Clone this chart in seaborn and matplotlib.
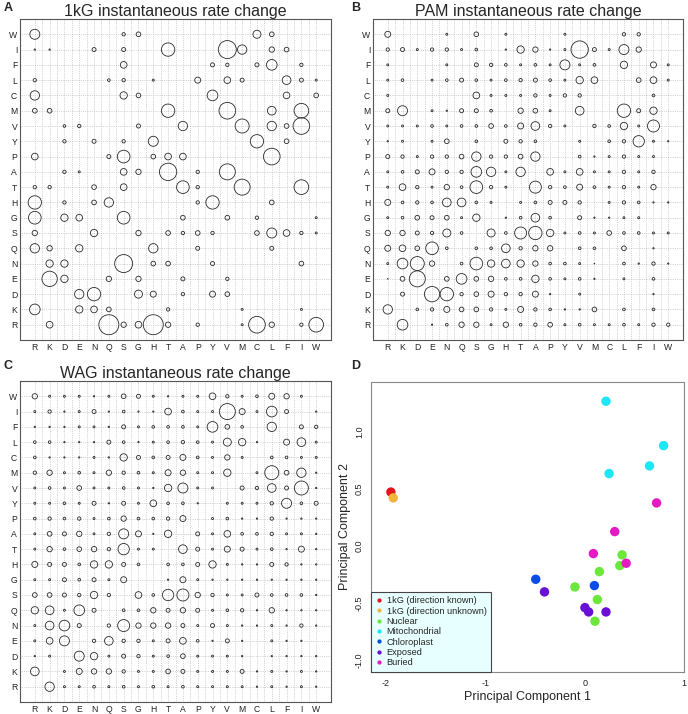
import numpy as np
import pandas as pd
import matplotlib
matplotlib.use('Agg')
import matplotlib.pyplot as plt
import seaborn as sns

AA_COLS = ['R', 'K', 'D', 'E', 'N', 'Q', 'S', 'G', 'H', 'T', 'A', 'P', 'Y', 'V', 'M', 'C', 'L', 'F', 'I', 'W']
AA_ROWS = ['W', 'I', 'F', 'L', 'C', 'M', 'V', 'Y', 'P', 'A', 'T', 'H', 'G', 'S', 'Q', 'N', 'E', 'D', 'K', 'R']

# magnitude of the rate change per cell (rows = AA_ROWS, columns = AA_COLS), 0 = no circle
KG_RATE = [
    [15, 0, 0, 0, 0, 0, 5, 7, 0, 0, 0, 0, 0, 0, 0, 12, 7, 0, 0, 0],
    [2, 2, 0, 0, 6, 0, 6, 0, 0, 20, 0, 0, 0, 27, 14, 0, 8, 7, 0, 0],
    [0, 0, 0, 0, 0, 0, 10, 0, 0, 0, 0, 0, 6, 5, 0, 6, 16, 0, 5, 0],
    [5, 0, 0, 0, 0, 4, 5, 0, 3, 0, 0, 9, 0, 10, 6, 0, 0, 13, 6, 3],
    [14, 0, 0, 0, 0, 0, 11, 7, 0, 0, 0, 0, 16, 0, 0, 0, 0, 10, 0, 7],
    [7, 7, 0, 0, 0, 0, 0, 0, 0, 20, 0, 0, 0, 25, 0, 0, 13, 0, 22, 0],
    [0, 0, 4, 5, 0, 0, 0, 6, 0, 0, 14, 0, 0, 0, 21, 0, 14, 7, 25, 0],
    [0, 0, 5, 0, 6, 0, 5, 0, 15, 0, 0, 0, 0, 0, 0, 20, 0, 7, 0, 0],
    [10, 0, 0, 0, 0, 6, 19, 0, 7, 10, 10, 0, 0, 0, 0, 0, 25, 0, 0, 0],
    [0, 0, 5, 3, 0, 0, 10, 8, 0, 26, 0, 5, 0, 24, 0, 0, 0, 0, 0, 0],
    [5, 5, 0, 0, 7, 0, 10, 0, 0, 0, 19, 5, 0, 0, 24, 0, 0, 0, 22, 0],
    [20, 0, 5, 0, 7, 14, 0, 0, 0, 0, 0, 5, 20, 0, 0, 0, 7, 0, 0, 0],
    [19, 0, 11, 10, 0, 0, 19, 0, 0, 0, 7, 0, 0, 7, 0, 5, 0, 0, 0, 3],
    [8, 0, 0, 0, 11, 0, 0, 8, 0, 7, 5, 7, 5, 0, 0, 7, 15, 10, 5, 3],
    [14, 8, 0, 11, 0, 0, 0, 0, 14, 0, 0, 6, 0, 0, 0, 0, 6, 0, 0, 0],
    [0, 11, 11, 0, 0, 0, 27, 0, 7, 7, 0, 0, 6, 0, 0, 0, 0, 0, 7, 0],
    [0, 23, 11, 0, 0, 8, 0, 8, 0, 0, 6, 0, 0, 5, 0, 0, 0, 0, 0, 0],
    [0, 0, 0, 14, 20, 0, 0, 12, 9, 0, 5, 0, 9, 7, 0, 0, 0, 0, 0, 0],
    [16, 0, 0, 11, 10, 7, 0, 0, 0, 5, 0, 0, 0, 0, 3, 0, 0, 0, 3, 0],
    [0, 10, 0, 0, 0, 30, 8, 10, 30, 8, 0, 5, 0, 0, 3, 25, 8, 0, 5, 22],
]

PAM_RATE = [
    [9, 0, 0, 0, 3, 0, 7, 0, 3, 0, 0, 0, 3, 0, 0, 0, 5, 5, 0, 0],
    [5, 6, 3, 5, 5, 3, 4, 0, 2, 11, 8, 2, 3, 26, 6, 3, 15, 8, 0, 0],
    [3, 0, 0, 0, 3, 0, 6, 5, 4, 3, 4, 3, 15, 3, 4, 0, 11, 0, 9, 3],
    [3, 4, 0, 3, 4, 6, 4, 3, 4, 5, 6, 4, 3, 11, 10, 0, 0, 7, 10, 3],
    [3, 0, 0, 0, 0, 0, 10, 3, 3, 3, 5, 3, 5, 5, 0, 0, 0, 0, 4, 0],
    [6, 15, 0, 3, 2, 6, 6, 4, 0, 8, 7, 3, 0, 13, 0, 0, 20, 6, 11, 0],
    [3, 3, 3, 4, 3, 4, 4, 7, 4, 9, 13, 5, 3, 0, 5, 4, 11, 3, 18, 0],
    [2, 3, 0, 3, 7, 0, 4, 0, 6, 5, 4, 0, 0, 3, 0, 4, 5, 17, 3, 2],
    [6, 5, 3, 5, 5, 7, 14, 5, 5, 7, 14, 0, 0, 4, 2, 3, 5, 3, 3, 0],
    [3, 4, 6, 9, 5, 5, 16, 14, 3, 14, 0, 10, 3, 10, 3, 3, 5, 3, 5, 0],
    [3, 10, 5, 3, 8, 4, 19, 5, 3, 0, 18, 5, 4, 9, 4, 3, 5, 3, 8, 0],
    [9, 4, 5, 4, 13, 13, 4, 3, 0, 3, 4, 6, 6, 5, 0, 3, 5, 4, 2, 2],
    [3, 4, 7, 6, 7, 3, 11, 0, 2, 4, 13, 4, 0, 6, 2, 2, 3, 3, 0, 0],
    [8, 8, 6, 5, 12, 4, 0, 12, 4, 18, 20, 11, 3, 4, 3, 7, 4, 4, 3, 3],
    [9, 10, 7, 19, 4, 0, 4, 4, 13, 5, 8, 8, 0, 4, 4, 0, 7, 0, 2, 0],
    [3, 16, 21, 8, 0, 4, 19, 11, 13, 11, 8, 4, 4, 3, 1, 0, 4, 2, 5, 2],
    [1, 7, 24, 0, 7, 16, 7, 8, 4, 4, 11, 4, 3, 4, 2, 0, 3, 0, 4, 0],
    [0, 6, 0, 23, 20, 5, 7, 9, 5, 5, 9, 2, 0, 3, 0, 0, 0, 0, 2, 0],
    [14, 0, 4, 5, 9, 7, 7, 5, 3, 9, 5, 4, 2, 2, 7, 0, 4, 0, 4, 0],
    [0, 16, 0, 2, 4, 8, 8, 3, 8, 4, 5, 7, 3, 4, 3, 3, 4, 3, 5, 5],
]

WAG_RATE = [
    [8, 3, 3, 3, 2, 3, 7, 6, 3, 2, 3, 3, 10, 5, 3, 4, 9, 8, 3, 0],
    [3, 5, 2, 3, 6, 2, 4, 2, 2, 10, 4, 3, 3, 24, 9, 3, 16, 6, 0, 2],
    [2, 2, 2, 3, 3, 2, 6, 3, 4, 4, 4, 3, 16, 7, 4, 0, 14, 0, 6, 5],
    [4, 4, 2, 2, 2, 6, 4, 2, 3, 4, 5, 4, 3, 12, 11, 2, 0, 9, 13, 3],
    [4, 2, 2, 2, 3, 2, 11, 6, 4, 6, 9, 4, 3, 8, 3, 0, 4, 4, 3, 3],
    [5, 8, 3, 4, 3, 8, 5, 4, 3, 9, 8, 3, 3, 11, 0, 3, 21, 7, 14, 2],
    [3, 4, 3, 7, 3, 3, 4, 3, 2, 11, 15, 3, 3, 0, 6, 5, 13, 6, 21, 2],
    [3, 3, 4, 3, 6, 2, 6, 3, 10, 4, 4, 2, 0, 3, 3, 3, 5, 15, 4, 6],
    [4, 5, 4, 5, 3, 4, 8, 4, 4, 5, 9, 0, 3, 4, 2, 2, 5, 2, 2, 2],
    [3, 7, 6, 8, 3, 5, 15, 9, 2, 11, 0, 6, 3, 10, 4, 4, 5, 3, 3, 2],
    [3, 8, 4, 7, 8, 5, 17, 3, 3, 0, 13, 6, 3, 9, 6, 3, 4, 2, 9, 2],
    [9, 6, 6, 4, 11, 11, 6, 4, 0, 4, 4, 6, 11, 3, 2, 2, 6, 5, 2, 2],
    [3, 3, 6, 4, 6, 3, 9, 0, 0, 2, 9, 3, 2, 2, 2, 2, 2, 2, 2, 2],
    [7, 7, 6, 5, 11, 5, 0, 10, 4, 17, 18, 8, 5, 3, 3, 6, 4, 4, 4, 2],
    [11, 13, 3, 16, 6, 0, 4, 4, 8, 6, 8, 6, 3, 4, 5, 2, 8, 2, 2, 2],
    [3, 13, 16, 6, 0, 5, 18, 8, 8, 8, 6, 3, 6, 3, 2, 2, 3, 2, 5, 2],
    [3, 10, 15, 0, 5, 13, 5, 5, 3, 6, 10, 4, 2, 6, 2, 0, 3, 2, 2, 0],
    [2, 3, 0, 15, 11, 3, 6, 5, 3, 4, 7, 3, 3, 3, 2, 0, 2, 2, 2, 2],
    [13, 0, 3, 9, 8, 8, 5, 3, 3, 7, 6, 3, 3, 3, 6, 2, 3, 2, 3, 2],
    [0, 14, 3, 3, 4, 3, 4, 3, 4, 3, 4, 3, 3, 3, 3, 2, 3, 2, 3, 2],
]

PC_ORDER = ['1kG (direction known)', '1kG (direction unknown)', 'Nuclear', 'Mitochondrial',
            'Chloroplast', 'Exposed', 'Buried']
PC_COLORS = ['#E8141C', '#F0B53C', '#6BE83A', '#1EE6F5', '#0A4CE6', '#6A0FD6', '#E61AC3']

PC_GROUP = (['1kG (direction known)', '1kG (direction unknown)'] + ['Nuclear'] * 6 + ['Mitochondrial'] * 4
            + ['Chloroplast'] * 2 + ['Exposed'] * 4 + ['Buried'] * 4)
PC1 = [-1.95, -1.926, 0.377, 0.354, 0.148, -0.098, 0.128, 0.104, 0.215, 0.795, 0.653, 0.246,
       -0.492, 0.098, -0.404, 0.003, 0.040, 0.215, 0.724, 0.303, 0.088, 0.418]
PC2 = [0.47, 0.419, -0.078, -0.172, -0.224, -0.358, -0.468, -0.657, 1.262, 0.875, 0.698, 0.631,
       -0.291, -0.346, -0.401, -0.538, -0.576, -0.576, 0.375, 0.125, -0.067, -0.151]

sns.set_theme(style='white')
plt.rcParams['font.family'] = ['Liberation Sans', 'DejaVu Sans']
plt.rcParams['axes.unicode_minus'] = False


def plot_bubbles(ax, mat, title):
    df = pd.DataFrame(mat, index=AA_ROWS, columns=AA_COLS)
    long = df.stack().reset_index()
    long.columns = ['row', 'col', 'val']
    long = long[long['val'] > 0].copy()
    long['x'] = long['col'].map({a: i + 1 for i, a in enumerate(AA_COLS)})
    long['y'] = long['row'].map({a: len(AA_ROWS) - i for i, a in enumerate(AA_ROWS)})
    long['area'] = (0.48 * long['val']) ** 2
    amin, amax = long['area'].min(), long['area'].max()
    sns.scatterplot(data=long, x='x', y='y', size='area', sizes=(amin, amax), size_norm=(amin, amax),
                    facecolor='none', edgecolor='#2a2a2a', linewidth=0.6, legend=False, ax=ax, zorder=3)
    ax.set_xlim(0, 21)
    ax.set_ylim(0, 21)
    ax.set_xticks(range(1, 21))
    ax.set_xticklabels(AA_COLS, fontsize=6.2)
    ax.set_xticks(np.arange(1.5, 20, 1), minor=True)
    ax.set_yticks(range(1, 21))
    ax.set_yticklabels(AA_ROWS[::-1], fontsize=6.2)
    ax.tick_params(which='major', direction='in', length=2, width=0.5, pad=2, colors='#222222')
    ax.tick_params(which='minor', length=0)
    ax.grid(True, which='both', axis='x', linestyle=':', linewidth=0.5, color='#b0b0b0')
    ax.grid(True, which='major', axis='y', linestyle=':', linewidth=0.5, color='#b0b0b0')
    for s in ax.spines.values():
        s.set_color('#555555')
        s.set_linewidth(0.8)
    ax.set_xlabel('')
    ax.set_ylabel('')
    ax.set_title(title, fontsize=11.5, pad=2)


def plot_pca(ax):
    df = pd.DataFrame({'PC1': PC1, 'PC2': PC2, 'group': PC_GROUP})
    sns.scatterplot(data=df, x='PC1', y='PC2', hue='group', hue_order=PC_ORDER,
                    palette=dict(zip(PC_ORDER, PC_COLORS)), s=46, linewidth=0, ax=ax)
    ax.set_xlim(-2.15, 1.0)
    ax.set_ylim(-1.1, 1.43)
    ax.set_xticks([-2, -1, 0, 1])
    ax.set_xticklabels(['-2', '-1', '0', '1'], fontsize=6.5)
    ax.set_yticks([-1.0, -0.5, 0.0, 0.5, 1.0])
    ax.set_yticklabels(['-1.0', '-0.5', '0.0', '0.5', '1.0'], fontsize=6.5, rotation=90, va='center')
    ax.tick_params(direction='out', length=3, width=0.6, colors='#555555', labelcolor='#222222', pad=2)
    for s in ax.spines.values():
        s.set_color('#888888')
        s.set_linewidth(0.8)
    ax.set_xlabel('Principal Component 1', fontsize=9, labelpad=2)
    ax.set_ylabel('Principal Component 2', fontsize=9, labelpad=3)
    sns.move_legend(ax, 'lower left', bbox_to_anchor=(0, 0), title=None, fontsize=6.6,
                    frameon=True, fancybox=False, facecolor='#E8FFFF', edgecolor='#444444',
                    framealpha=1, markerscale=0.45, handlelength=0.8, handletextpad=0.4,
                    labelspacing=0.15, borderpad=0.5, borderaxespad=0)
    ax.get_legend().get_frame().set_linewidth(0.8)


fig = plt.figure(figsize=(6.88, 7.14), dpi=100)
ax_a = fig.add_axes([20 / 688, 1 - 340 / 714, 311 / 688, 321 / 714])
ax_b = fig.add_axes([373 / 688, 1 - 340 / 714, 310 / 688, 321 / 714])
ax_c = fig.add_axes([20 / 688, 1 - 702 / 714, 311 / 688, 321 / 714])
ax_d = fig.add_axes([371 / 688, 1 - 672 / 714, 313 / 688, 290 / 714])

plot_bubbles(ax_a, KG_RATE, '1kG instantaneous rate change')
plot_bubbles(ax_b, PAM_RATE, 'PAM instantaneous rate change')
plot_bubbles(ax_c, WAG_RATE, 'WAG instantaneous rate change')
plot_pca(ax_d)

for lab, (px, py) in zip('ABCD', [(8, 8), (356, 8), (8, 366), (356, 366)]):
    fig.text(px / 688, 1 - py / 714, lab, fontsize=9, fontweight='bold', ha='center', va='center')

fig.savefig('out.png', dpi=100, facecolor='w')
